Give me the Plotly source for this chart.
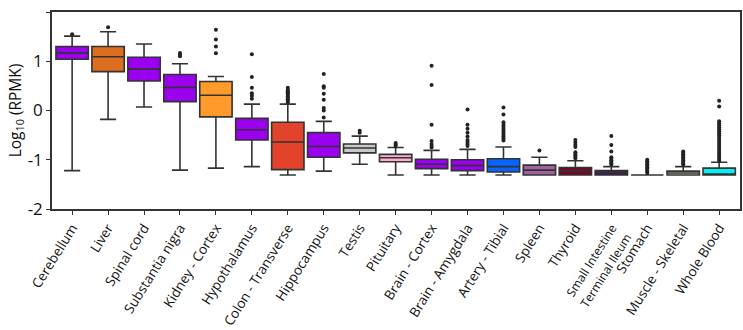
import plotly.graph_objects as go

tissues = ["Cerebellum", "Liver", "Spinal cord", "Substantia nigra", "Kidney - Cortex",
           "Hypothalamus", "Colon - Transverse", "Hippocampus", "Testis", "Pituitary",
           "Brain - Cortex", "Brain - Amygdala", "Artery - Tibial", "Spleen", "Thyroid",
           "Small Intestine Terminal Ileum", "Stomach", "Muscle - Skeletal", "Whole Blood"]
tick_labels = ["Cerebellum", "Liver", "Spinal cord", "Substantia nigra", "Kidney - Cortex",
               "Hypothalamus", "Colon - Transverse", "Hippocampus", "Testis", "Pituitary",
               "Brain - Cortex", "Brain - Amygdala", "Artery - Tibial", "Spleen", "Thyroid",
               "<span style='font-size:12px'>Small Intestine<br>Terminal Ileum</span>",
               "Stomach", "Muscle - Skeletal", "Whole Blood"]

q1 =     [1.04, 0.79, 0.60, 0.18, -0.13, -0.60, -1.20, -0.95, -0.86, -1.04, -1.18, -1.22, -1.25, -1.31, -1.31, -1.31, -1.31, -1.31, -1.31]
median = [1.17, 1.09, 0.84, 0.47, 0.31, -0.39, -0.64, -0.73, -0.76, -0.96, -1.09, -1.12, -1.14, -1.21, -1.23, -1.26, -1.31, -1.27, -1.31]
q3 =     [1.30, 1.30, 1.08, 0.73, 0.59, -0.16, -0.24, -0.45, -0.68, -0.89, -0.99, -1.00, -0.98, -1.11, -1.16, -1.22, -1.31, -1.23, -1.17]
lower =  [-1.22, -0.18, 0.07, -1.21, -1.17, -1.14, -1.31, -1.23, -1.09, -1.31, -1.31, -1.31, -1.31, -1.31, -1.31, -1.31, -1.31, -1.31, -1.31]
upper =  [1.51, 1.60, 1.35, 0.95, 0.69, 0.13, 0.13, -0.22, -0.52, -0.75, -0.81, -0.79, -0.74, -0.95, -1.02, -1.14, -1.31, -1.14, -1.05]

outliers = {
    "Cerebellum": [1.55],
    "Liver": [1.69],
    "Spinal cord": [],
    "Substantia nigra": [1.17, 1.13, 1.10],
    "Kidney - Cortex": [1.64, 1.44, 1.30, 1.16],
    "Hypothalamus": [1.14, 0.68, 0.46, 0.35, 0.30, 0.24],
    "Colon - Transverse": [0.46, 0.42, 0.39, 0.37, 0.34, 0.32, 0.29, 0.26, 0.23, 0.20, 0.17],
    "Hippocampus": [0.74, 0.49, 0.46, 0.34, 0.22, 0.05, 0.00, -0.14],
    "Testis": [-0.41, -0.45],
    "Pituitary": [-0.66, -0.69, -0.72],
    "Brain - Cortex": [0.91, 0.52, -0.29, -0.62, -0.68, -0.72, -0.75],
    "Brain - Amygdala": [0.02, -0.29, -0.37, -0.45, -0.53, -0.60, -0.64, -0.68, -0.72],
    "Artery - Tibial": [0.06, -0.08, -0.24, -0.29, -0.33, -0.37, -0.41, -0.45, -0.49, -0.53, -0.57, -0.61],
    "Spleen": [-0.81],
    "Thyroid": [-0.60, -0.65, -0.70, -0.74, -0.85, -0.88, -0.91, -0.94, -0.97],
    "Small Intestine Terminal Ileum": [-0.52, -0.70, -0.83, -0.95, -0.98, -1.01, -1.04, -1.07, -1.10],
    "Stomach": [-1.00, -1.03, -1.06, -1.09, -1.12, -1.15, -1.18, -1.21, -1.24, -1.27],
    "Muscle - Skeletal": [-0.83, -0.86, -0.89, -0.92, -0.95, -0.98, -1.01, -1.04, -1.07, -1.10],
    "Whole Blood": [0.20, 0.08, -0.22, -0.26, -0.30, -0.34, -0.38, -0.42, -0.46, -0.50, -0.54, -0.58,
                    -0.62, -0.66, -0.70, -0.74, -0.78, -0.82, -0.86, -0.90, -0.94, -0.98, -1.02],
}

colors = ["#9B00F0", "#DD6E1F", "#9B00F0", "#9B00F0", "#FF9A2B", "#9B00F0", "#E2432A",
          "#9B00F0", "#C9C9C9", "#FFAED6", "#9B00F0", "#9B00F0", "#0764FF", "#A2609C",
          "#7E0024", "#4E1173", "#FFFFFF", "#EEF5C2", "#00F2F2"]

fig = go.Figure()
for i, t in enumerate(tissues):
    fig.add_trace(go.Box(
        x=[t], q1=[q1[i]], median=[median[i]], q3=[q3[i]],
        lowerfence=[lower[i]], upperfence=[upper[i]],
        fillcolor=colors[i], line=dict(color="#333333", width=1.6),
        width=0.9, whiskerwidth=0.5, boxpoints=False, showlegend=False,
    ))
    if outliers[t]:
        fig.add_trace(go.Scatter(
            x=[t] * len(outliers[t]), y=outliers[t], mode="markers",
            marker=dict(color="#222222", size=4), showlegend=False,
        ))

fig.update_layout(
    width=743, height=330,
    margin=dict(l=52, r=3, t=12, b=121),
    paper_bgcolor="white", plot_bgcolor="white",
    font=dict(family="Open Sans", color="#111111"),
    boxmode="overlay",
)
fig.update_xaxes(
    type="category", categoryorder="array", categoryarray=tissues,
    tickvals=tissues, ticktext=tick_labels, tickangle=-58,
    range=[-0.56, 18.58], automargin=False,
    tickfont=dict(size=13.5), ticks="outside", ticklen=4, tickcolor="#333",
    showline=True, linecolor="#333", linewidth=1.5, mirror=True, showgrid=False,
)
fig.update_yaxes(
    range=[-2, 2], tickvals=[2, 1, 0, -1, -2], ticktext=["2", "1", "0", "-1", "-2"],
    tickfont=dict(size=17), ticks="outside", ticklen=4, tickcolor="#333",
    showline=True, linecolor="#333", linewidth=1.5, mirror=True, showgrid=False,
    zeroline=False, automargin=False,
    title=dict(text="Log<sub>10</sub> (RPMK)", font=dict(size=15.5), standoff=2),
)
# remove the browser's default 8px body margin so the figure fills the window
fig.write_html("out.html", config={"displayModeBar": False},
               post_script="document.body.style.margin='0';document.body.style.overflow='hidden';")
